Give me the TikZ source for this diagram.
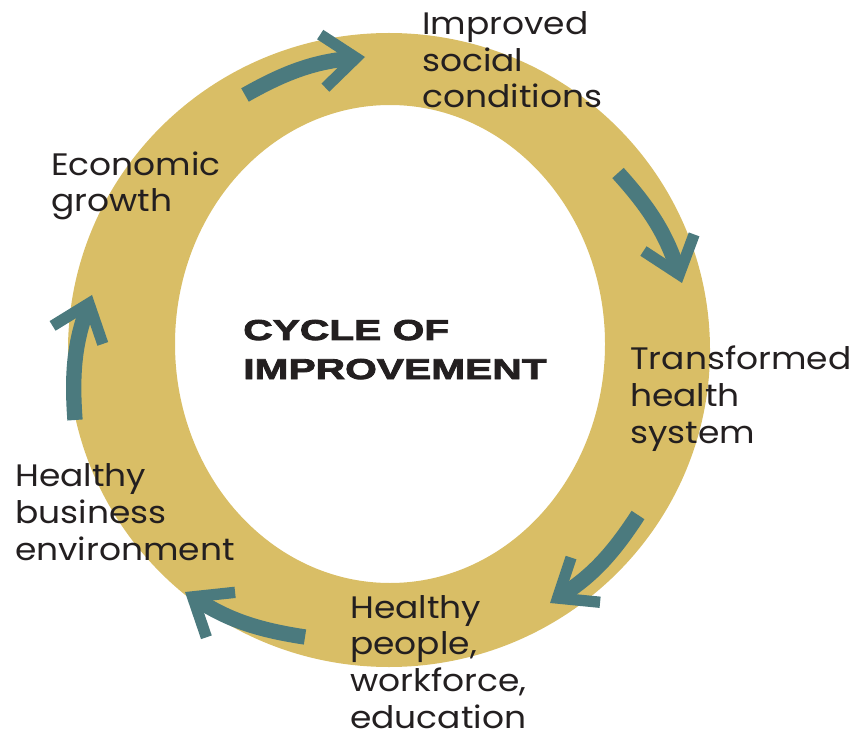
\documentclass[tikz,border=0pt]{standalone}
\usepackage{fontspec}
\setmainfont{Poppins}[FakeStretch=1.11]
\newfontfamily\titlefont{Liberation Sans}[FakeStretch=1.42,BoldFeatures={FakeBold=3}]
\usetikzlibrary{arrows.meta}
\definecolor{ringgold}{RGB}{217,190,102}
\definecolor{flowteal}{RGB}{75,122,126}
\definecolor{inkgray}{RGB}{35,31,32}

\begin{document}
\begin{tikzpicture}[x=0.3mm,y=0.3mm,
    flow/.style={draw=flowteal, line width=4.6mm,
        -{Straight Barb[length=10mm,width=16mm,line width=3.4mm]}},
    lbl/.style={anchor=base west, inner sep=0pt, align=left, text=inkgray,
        font=\fontsize{26.5pt}{31.2pt}\selectfont},
    ttl/.style={anchor=base west, inner sep=0pt, align=left, text=inkgray,
        font=\titlefont\bfseries\fontsize{24.5pt}{33.3pt}\selectfont}]

    \useasboundingbox (0,0) rectangle (857,738);

    % gold ring
    \fill[ringgold, even odd rule] (389,388) ellipse [x radius=321, y radius=317]
        (390,394) ellipse [x radius=215, y radius=239];

    % ends of the five arrows
    \foreach \n/\x/\y in {t1/245/643, h1/365/681, t2/618/565, h2/682/455,
        t3/638/223, h3/550/135, t4/305/101, h4/185/146, t5/75/318, h5/92/443}
        \coordinate (\n) at (\x,\y);

    \foreach \i in {1,...,5}
        \draw[flow] (t\i) to[bend left=12] (h\i);

    % labels, placed at the baseline of their last line
    \node[ttl] (title) at (243,359) {CYCLE OF\\IMPROVEMENT};

    \node[lbl] (social) at (422,630) {Improved\\social\\conditions};
    \node[lbl] (health) at (630,295) {Transformed\\health\\system};
    \node[lbl] (people) at (350,10) {Healthy\\people,\\workforce,\\education};
    \node[lbl] (business) at (15,178) {Healthy\\business\\environment};
    \node[lbl] (growth) at (51,526) {Economic\\growth};

\end{tikzpicture}
\end{document}
